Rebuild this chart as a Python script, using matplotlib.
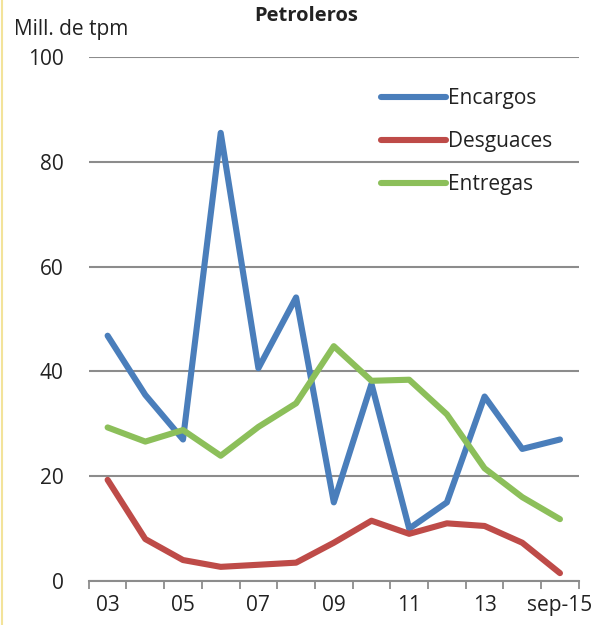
import matplotlib.pyplot as plt
from matplotlib.lines import Line2D

plt.rcParams['font.family'] = ['Open Sans', 'DejaVu Sans']

years = ['03', '04', '05', '06', '07', '08', '09', '10', '11', '12', '13', '14', 'sep-15']
encargos = [46.8, 35.5, 27.0, 85.5, 40.6, 54.1, 15.0, 37.6, 10.0, 15.0, 35.2, 25.2, 27.0]
desguaces = [19.3, 8.0, 4.0, 2.7, 3.1, 3.5, 7.3, 11.5, 9.0, 11.0, 10.5, 7.3, 1.5]
entregas = [29.3, 26.6, 28.8, 23.9, 29.4, 33.9, 44.8, 38.2, 38.4, 31.8, 21.5, 16.0, 11.8]

blue = '#4a7ebb'
red = '#be4b48'
green = '#8cbf5a'
txt = '#222222'

fig = plt.figure(figsize=(6.08, 6.25), dpi=100)
ax = fig.add_axes([0.146, 0.0704, 0.806, 0.8386])

x = list(range(len(years)))
lw = 4.4
ax.plot(x, encargos, color=blue, lw=lw, label='Encargos', solid_capstyle='round', solid_joinstyle='round')
ax.plot(x, desguaces, color=red, lw=lw, label='Desguaces', solid_capstyle='round', solid_joinstyle='round')
ax.plot(x, entregas, color=green, lw=lw, label='Entregas', solid_capstyle='round', solid_joinstyle='round')

ax.set_xlim(-0.5, len(years) - 0.5)
ax.set_ylim(0, 100)
ax.set_yticks([0, 20, 40, 60, 80, 100])
ax.yaxis.grid(True, color='#8c8c8c', lw=1.5)
ax.set_axisbelow(True)
ax.tick_params(axis='y', length=0, pad=18, labelsize=15, colors=txt)

# category axis: tick marks between categories, labels every other year
ax.set_xticks([i - 0.5 for i in range(len(years) + 1)], minor=True)
ax.set_xticks([0, 2, 4, 6, 8, 10, 12])
ax.set_xticklabels([years[i] for i in [0, 2, 4, 6, 8, 10, 12]])
ax.tick_params(axis='x', which='major', length=0, pad=10, labelsize=15, colors=txt)
ax.tick_params(axis='x', which='minor', length=6, width=1.3, color='#8c8c8c', direction='out')

for s in ['top', 'right', 'left']:
    ax.spines[s].set_visible(False)
ax.spines['bottom'].set_color('#8c8c8c')
ax.spines['bottom'].set_linewidth(1.5)

leg = ax.legend(loc='upper left', bbox_to_anchor=(0.575, 0.96), frameon=False, fontsize=15,
                handlelength=3.1, handletextpad=0.12, labelspacing=1.05, borderpad=0)
for t in leg.get_texts():
    t.set_color(txt)

fig.text(0.023, 0.953, 'Mill. de tpm', fontsize=15, color=txt, va='center')
fig.text(0.503, 0.975, 'Petroleros', fontsize=14.5, fontweight='bold', color=txt, ha='center', va='center')

fig.add_artist(Line2D([0.003, 0.003], [0.0, 1.0], transform=fig.transFigure, color='#f3e39a', lw=1.5))

fig.savefig('out.png', dpi=100)
